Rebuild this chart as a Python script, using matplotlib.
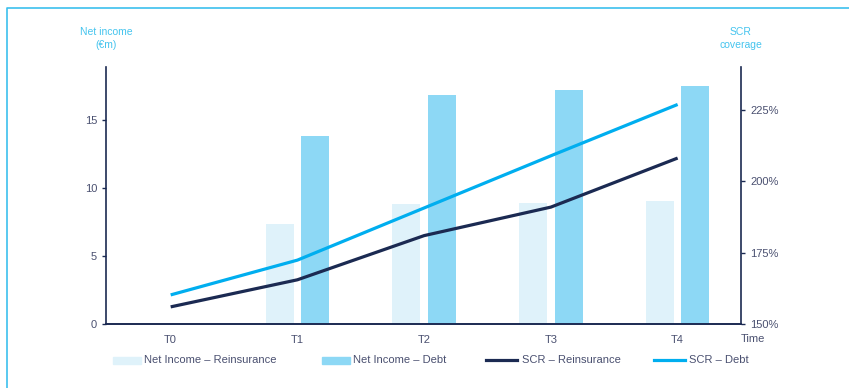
import matplotlib.pyplot as plt
from matplotlib.lines import Line2D
from matplotlib.patches import Rectangle
import numpy as np

plt.rcParams['font.family'] = ['Liberation Sans Narrow', 'Liberation Sans', 'DejaVu Sans']

periods = ["T0", "T1", "T2", "T3", "T4"]
ni_reins = [0, 7.35, 8.8, 8.9, 9.05]
ni_debt = [0, 13.8, 16.85, 17.2, 17.5]
scr_reins = [156.0, 165.5, 181.0, 191.0, 208.2]
scr_debt = [160.2, 172.4, 190.7, 209.0, 227.0]

navy = "#1b2a52"
cyan = "#00aeef"
light_bar = "#dff2fa"
dark_bar = "#8dd8f5"
title_col = "#45c4ee"
tick_col = "#4a5070"

fig = plt.figure(figsize=(8.49, 3.88), dpi=100)
ax = fig.add_axes([0.1249, 0.165, 0.7479, 0.662])
ax2 = ax.twinx()

x = np.arange(len(periods))
ax.bar(x[1:] - 0.14, ni_reins[1:], width=0.22, color=light_bar, zorder=1)
ax.bar(x[1:] + 0.14, ni_debt[1:], width=0.22, color=dark_bar, zorder=1)
ax.set_ylim(0, 18.9)
ax.set_xlim(-0.51, 4.5)
ax.set_yticks([0, 5, 10, 15])
ax.set_xticks(x)
ax.set_xticklabels(periods)

ax2.plot(x, scr_reins, color=navy, lw=2.3, solid_capstyle='butt')
ax2.plot(x, scr_debt, color=cyan, lw=2.3, solid_capstyle='butt')
ax2.set_ylim(150, 240.1)
ax2.set_yticks([150, 175, 200, 225])
ax2.set_yticklabels(["150%", "175%", "200%", "225%"])

for a in (ax, ax2):
    a.spines['top'].set_visible(False)
    for s in ('left', 'right', 'bottom'):
        a.spines[s].set_color(navy)
        a.spines[s].set_linewidth(1.2)
    a.tick_params(colors=navy, labelcolor=tick_col, labelsize=8, length=3, width=1)
ax.tick_params(axis='x', length=0, pad=8)
ax2.spines['left'].set_visible(False)
ax.spines['right'].set_visible(False)

fig.text(0.1249, 0.9, "Net income\n(€m)", ha='center', va='center', color=title_col, fontsize=7.5, linespacing=1.35)
fig.text(0.8728, 0.9, "SCR\ncoverage", ha='center', va='center', color=title_col, fontsize=7.5, linespacing=1.35)
fig.text(753 / 849, 1 - 339 / 388, "Time", ha='center', va='center', color=tick_col, fontsize=8)

# legend drawn in figure pixels
H = 388.0
W = 849.0
ly = 1 - 360 / H
fig.patches.append(Rectangle((113 / W, 1 - 364 / H), 28 / W, 7 / H, transform=fig.transFigure, color=light_bar))
fig.patches.append(Rectangle((322 / W, 1 - 364 / H), 28 / W, 7 / H, transform=fig.transFigure, color=dark_bar))
fig.lines.append(Line2D([486 / W, 517 / W], [ly, ly], transform=fig.transFigure, color=navy, lw=2.3))
fig.lines.append(Line2D([654 / W, 685 / W], [ly, ly], transform=fig.transFigure, color=cyan, lw=2.3))
for px, lab in [(144, "Net Income – Reinsurance"), (353, "Net Income – Debt"),
                (522, "SCR – Reinsurance"), (689, "SCR – Debt")]:
    fig.text(px / W, ly, lab, ha='left', va='center', color=tick_col, fontsize=8)

# frame
fig.lines.append(Line2D([7 / W, 7 / W, 1], [0, 1 - 8 / H, 1 - 8 / H], transform=fig.transFigure, color="#3cc0ee", lw=1.2))

fig.savefig("out.png", dpi=100)
